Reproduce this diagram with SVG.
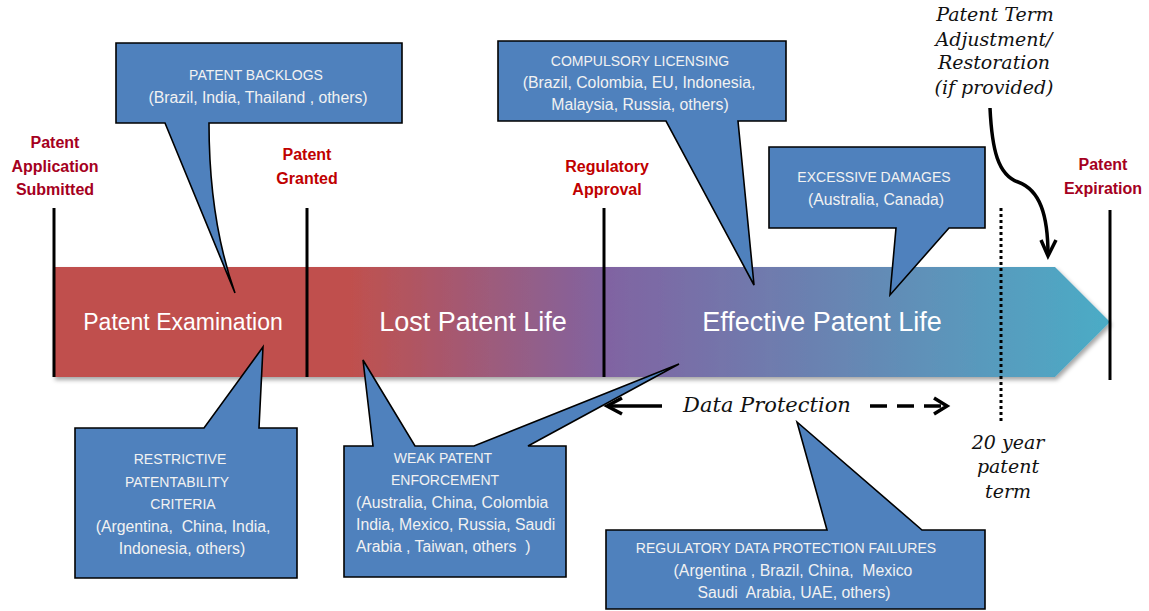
<svg xmlns="http://www.w3.org/2000/svg" width="1149" height="611" viewBox="0 0 1149 611">
<style>
.lbl{font-family:"Liberation Sans",Arial,sans-serif;font-weight:bold;font-size:16px;text-anchor:middle}
.box{fill:#4F81BD;stroke:#000;stroke-width:1.6;stroke-linejoin:miter}
.bt{font-family:"Liberation Sans",Arial,sans-serif;font-size:14px;fill:#F2F2F2;text-anchor:middle}
.bm{font-family:"Liberation Sans",Arial,sans-serif;font-size:15.8px;fill:#F2F2F2;text-anchor:middle}
.bs{font-family:"Liberation Sans",Arial,sans-serif;font-size:14px;fill:#F2F2F2;text-anchor:start}
.bsm{font-family:"Liberation Sans",Arial,sans-serif;font-size:15.8px;fill:#F2F2F2;text-anchor:start}
.big{font-family:"Liberation Sans",Arial,sans-serif;fill:#FFFFFF;text-anchor:middle}
.scr{font-family:"DejaVu Serif",serif;font-style:italic;font-size:19px;fill:#111;text-anchor:middle}
.vl{stroke:#000;stroke-width:3;fill:none}
.arr{stroke:#000;stroke-width:3.5;fill:none;stroke-linecap:butt;stroke-linejoin:miter}
</style>
<defs>
<linearGradient id="bandGrad" gradientUnits="userSpaceOnUse" x1="53" y1="0" x2="1110" y2="0">
<stop offset="0" stop-color="#C0504D"/>
<stop offset="0.28" stop-color="#C0504D"/>
<stop offset="0.527" stop-color="#8064A2"/>
<stop offset="1" stop-color="#4BACC6"/>
</linearGradient>
<filter id="shadow" x="-5%" y="-20%" width="110%" height="150%">
<feDropShadow dx="2" dy="3" stdDeviation="2" flood-color="#000" flood-opacity="0.35"/>
</filter>
</defs>
<rect width="1149" height="611" fill="#FFFFFF"/>

<g id="band">
<path d="M53,267 H1055 L1110,322 L1055,377 H53 Z" fill="url(#bandGrad)" filter="url(#shadow)"/>
<text class="big" x="183" y="330" font-size="23">Patent Examination</text>
<text class="big" x="473" y="331" font-size="27">Lost Patent Life</text>
<text class="big" x="822" y="331" font-size="27">Effective Patent Life</text>
</g>

<g id="connectors">
<line class="vl" x1="54" y1="208" x2="54" y2="377"/>
<line class="vl" x1="307" y1="208" x2="307" y2="377"/>
<line class="vl" x1="604" y1="208" x2="604" y2="377"/>
<line class="vl" x1="1110" y1="210" x2="1110" y2="380"/>
<line x1="1001" y1="208" x2="1001" y2="423" stroke="#000" stroke-width="3" stroke-dasharray="3 3"/>
<path class="arr" d="M990,108 C992,150 998,175 1018,182 C1040,190 1048,215 1048,255"/>
<polyline class="arr" points="1041,240 1048,256 1056,240"/>
<line class="arr" x1="662" y1="406" x2="609" y2="406"/>
<polyline class="arr" points="622,398 607,406 622,414"/>
<line class="arr" x1="870" y1="406" x2="944" y2="406" stroke-dasharray="17 10"/>
<polyline class="arr" points="934,398 947,406 934,414"/>
</g>

<g id="label-submitted" class="lbl" fill="#A50021">
<text x="55" y="148">Patent</text>
<text x="55" y="172">Application</text>
<text x="55" y="195">Submitted</text>
</g>
<g id="label-granted" class="lbl" fill="#C00000">
<text x="307" y="160">Patent</text>
<text x="307" y="184">Granted</text>
</g>
<g id="label-regulatory" class="lbl" fill="#C00000">
<text x="607" y="172">Regulatory</text>
<text x="607" y="195">Approval</text>
</g>
<g id="label-expiration" class="lbl" fill="#A50021">
<text x="1103" y="170">Patent</text>
<text x="1103" y="194">Expiration</text>
</g>

<g id="pta" class="scr">
<text x="995" y="21">Patent Term</text>
<text x="994" y="46">Adjustment/</text>
<text x="994" y="69">Restoration</text>
<text x="994" y="94">(if provided)</text>
</g>
<g id="data-protection" class="scr">
<text x="767" y="412" font-size="21">Data Protection</text>
</g>
<g id="term20" class="scr">
<text x="1008" y="449">20 year</text>
<text x="1008" y="473">patent</text>
<text x="1008" y="498">term</text>
</g>

<g id="backlogs">
<path class="box" d="M116,43 H402 V123 H209 Q209,220 235,293 L165,123 H116 Z"/>
<text class="bt" x="256" y="80">PATENT BACKLOGS</text>
<text class="bm" x="258" y="103">(Brazil, India, Thailand , others)</text>
</g>

<g id="compulsory">
<path class="box" d="M498,41 H786 V121 H738 L754,285 L666,121 H498 Z"/>
<text class="bt" x="640" y="66">COMPULSORY LICENSING</text>
<text class="bm" x="639" y="88">(Brazil, Colombia, EU, Indonesia,</text>
<text class="bm" x="640" y="110">Malaysia, Russia, others)</text>
</g>

<g id="excessive">
<path class="box" d="M769,147 H985 V228 H949 L890,295 L896,228 H769 Z"/>
<text class="bt" x="874" y="182">EXCESSIVE DAMAGES</text>
<text class="bm" x="876" y="205">(Australia, Canada)</text>
</g>

<g id="restrictive">
<path class="box" d="M75,428 H204 L263,347 L259,428 H297 V578 H75 Z"/>
<text class="bt" x="180" y="464">RESTRICTIVE</text>
<text class="bt" x="177" y="487">PATENTABILITY</text>
<text class="bt" x="183" y="509">CRITERIA</text>
<text class="bm" x="183" y="532" xml:space="preserve">(Argentina,  China, India,</text>
<text class="bm" x="182" y="554">Indonesia, others)</text>
</g>

<g id="weak">
<path class="box" d="M344,446 H373 L363,360 L415,446 H474 L679,364 L528,446 H566 V577 H344 Z"/>
<text class="bt" x="443" y="463">WEAK PATENT</text>
<text class="bt" x="445" y="485">ENFORCEMENT</text>
<text class="bsm" x="356" y="508">(Australia, China, Colombia</text>
<text class="bsm" x="356" y="530">India, Mexico, Russia, Saudi</text>
<text class="bsm" x="356" y="552" xml:space="preserve">Arabia , Taiwan, others  )</text>
</g>

<g id="regulatory-data">
<path class="box" d="M606,530 H827 L797,422 L922,530 H985 V609 H606 Z"/>
<text class="bt" x="786" y="553">REGULATORY DATA PROTECTION FAILURES</text>
<text class="bm" x="793" y="576" xml:space="preserve">(Argentina , Brazil, China,  Mexico</text>
<text class="bm" x="794" y="598" xml:space="preserve">Saudi  Arabia, UAE, others)</text>
</g>
</svg>
